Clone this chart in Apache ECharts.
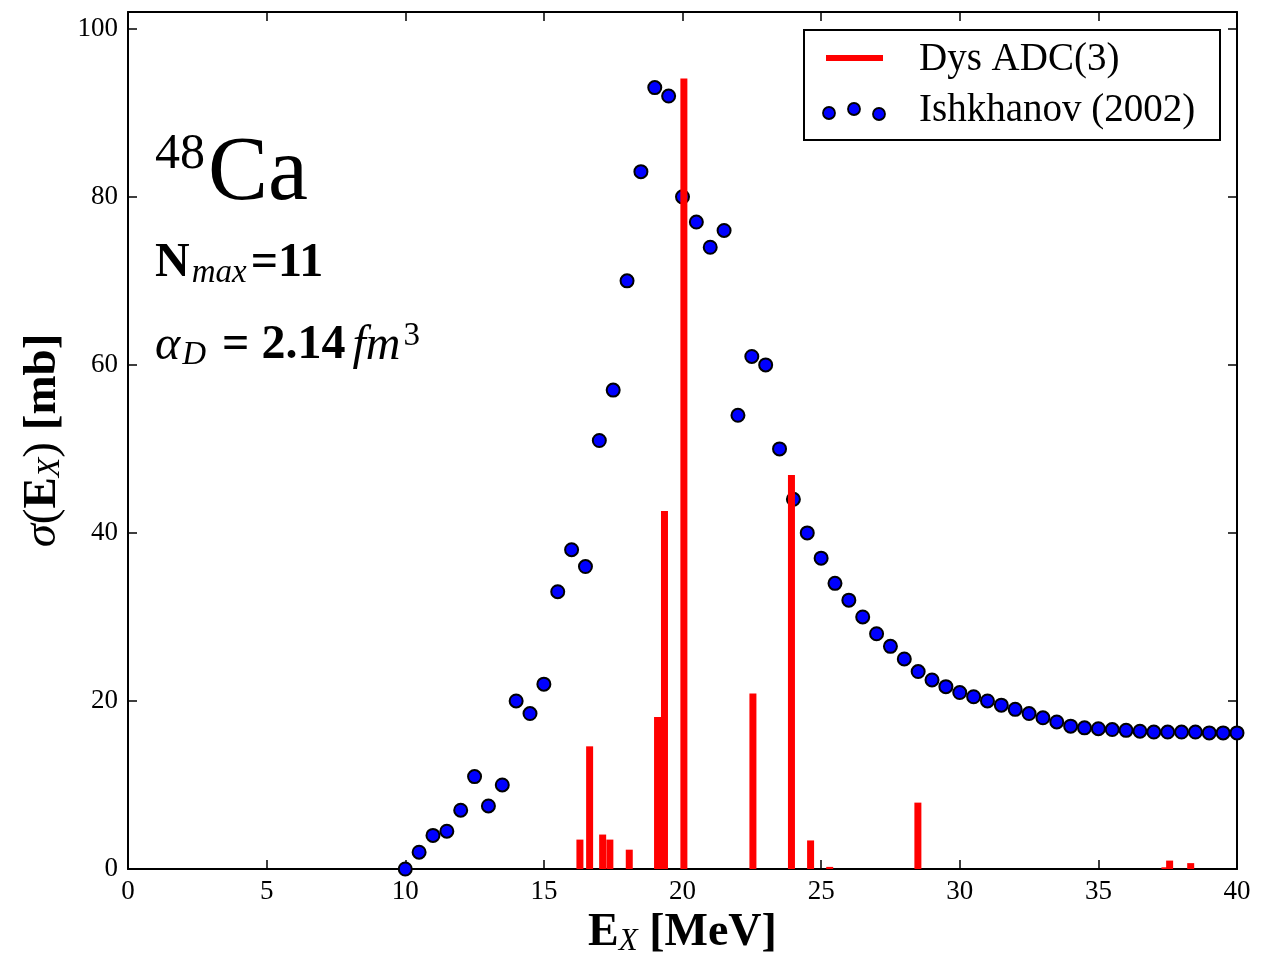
<!DOCTYPE html>
<html>
<head>
<meta charset="utf-8">
<title>48Ca photoabsorption</title>
<script src="https://cdn.jsdelivr.net/npm/echarts@6/dist/echarts.min.js"></script>
<style>
  html, body { margin: 0; padding: 0; background: #fff; }
  #chart { width: 1271px; height: 954px; }
</style>
</head>
<body>
<div id="chart"></div>
<script>
// Dys ADC(3) discrete strengths
const energyDys = [16.3, 16.65, 17.12, 17.38, 18.08, 19.1, 19.35, 20.05, 22.54, 23.93, 24.62, 25.31, 28.49, 37.4, 37.57, 38.33];
const sigmaDys = [3.5, 14.6, 4.1, 3.5, 2.3, 18.1, 42.6, 94.1, 20.9, 46.9, 3.4, 0.25, 7.9, 0.2, 1.0, 0.7];

// Ishkhanov (2002) data points
const energyExp = [10, 10.5, 11, 11.5, 12, 12.5, 13, 13.5, 14, 14.5, 15, 15.5, 16, 16.5, 17, 17.5, 18, 18.5, 19, 19.5,
  20, 20.5, 21, 21.5, 22, 22.5, 23, 23.5, 24, 24.5, 25, 25.5, 26, 26.5, 27, 27.5, 28, 28.5, 29, 29.5,
  30, 30.5, 31, 31.5, 32, 32.5, 33, 33.5, 34, 34.5, 35, 35.5, 36, 36.5, 37, 37.5, 38, 38.5, 39, 39.5, 40];
const sigmaExp = [0, 2, 4, 4.5, 7, 11, 7.5, 10, 20, 18.5, 22, 33, 38, 36, 51, 57, 70, 83, 93, 92,
  80, 77, 74, 76, 54, 61, 60, 50, 44, 40, 37, 34, 32, 30, 28, 26.5, 25, 23.5, 22.5, 21.7,
  21, 20.5, 20, 19.5, 19, 18.5, 18, 17.5, 17, 16.8, 16.7, 16.6, 16.5, 16.4, 16.3, 16.3, 16.3, 16.3, 16.2, 16.2, 16.2];

const xRange = [0, 40];
const xStep = 5;
const yRange = [0, 102];
const yStep = 20;

const legendNames = ['Dys ADC(3)', 'Ishkhanov (2002)'];

const serif = "'Liberation Serif', 'DejaVu Serif', serif";

const chart = echarts.init(document.getElementById('chart'));

const frameLine = { show: true, onZero: false, lineStyle: { color: '#000', width: 2 } };
const innerTick = { show: true, inside: true, length: 9, lineStyle: { color: '#000', width: 1.5 } };

const option = {
  backgroundColor: '#fff',
  animation: false,
  grid: { left: 128, right: 34, top: 12, bottom: 85, containLabel: false, outerBoundsMode: 'none' },
  xAxis: [
    {
      type: 'value', min: xRange[0], max: xRange[1], interval: xStep, position: 'bottom',
      axisLine: frameLine, axisTick: innerTick, splitLine: { show: false },
      axisLabel: { color: '#000', fontSize: 27, fontFamily: serif, margin: 9 },
      name: '{b|E}{sub|X}{b| [MeV]}', nameLocation: 'middle', nameGap: 34,
      nameTextStyle: {
        rich: {
          b: { fontSize: 46, fontWeight: 'bold', fontFamily: serif, color: '#000', lineHeight: 48 },
          sub: { fontSize: 31, fontStyle: 'italic', fontFamily: serif, color: '#000', lineHeight: 26, verticalAlign: 'bottom' }
        }
      }
    },
    {
      type: 'value', min: xRange[0], max: xRange[1], interval: xStep, position: 'top',
      axisLine: frameLine, axisTick: innerTick, splitLine: { show: false }, axisLabel: { show: false }
    }
  ],
  yAxis: [
    {
      type: 'value', min: yRange[0], max: yRange[1], interval: yStep, position: 'left',
      axisLine: frameLine, axisTick: innerTick, splitLine: { show: false },
      axisLabel: {
        color: '#000', fontSize: 27, fontFamily: serif, margin: 10,
        formatter: v => (v % yStep === 0 ? String(v) : '')
      },
      name: '{s|σ}{n|(}{b|E}{sub|X}{n|) }{b|[mb]}', nameLocation: 'middle', nameGap: 57,
      nameTextStyle: {
        rich: {
          s: { fontSize: 47, fontStyle: 'italic', fontFamily: serif, color: '#000', lineHeight: 48 },
          n: { fontSize: 47, fontFamily: serif, color: '#000', lineHeight: 48 },
          b: { fontSize: 47, fontWeight: 'bold', fontFamily: serif, color: '#000', lineHeight: 48 },
          sub: { fontSize: 32, fontStyle: 'italic', fontFamily: serif, color: '#000', lineHeight: 26, verticalAlign: 'bottom' }
        }
      }
    },
    {
      type: 'value', min: yRange[0], max: yRange[1], interval: yStep, position: 'right',
      axisLine: frameLine, axisTick: innerTick, splitLine: { show: false }, axisLabel: { show: false }
    }
  ],
  series: [
    {
      name: legendNames[1], type: 'scatter', xAxisIndex: 0, yAxisIndex: 0, z: 2,
      symbol: 'circle', symbolSize: 13,
      itemStyle: { color: '#0000ff', borderColor: '#000', borderWidth: 2, opacity: 1 },
      data: energyExp.map((e, i) => [e, sigmaExp[i]])
    },
    {
      name: legendNames[0], type: 'bar', xAxisIndex: 0, yAxisIndex: 0, z: 3,
      barWidth: 7,
      itemStyle: { color: '#ff0000' },
      data: energyDys.map((e, i) => [e, sigmaDys[i]])
    }
  ],
  graphic: [
    {
      type: 'text', left: 155, top: 130, z: 10,
      style: {
        text: '{sup|48}{big|Ca}',
        rich: {
          sup: { fontSize: 50, fontFamily: serif, fill: '#000', lineHeight: 62, verticalAlign: 'top', padding: [0, 3, 0, 0] },
          big: { fontSize: 90, fontFamily: serif, fill: '#000', lineHeight: 90 }
        }
      }
    },
    {
      type: 'text', left: 155, top: 240, z: 10,
      style: {
        text: '{b|N}{sub|max}{b|=11}',
        rich: {
          b: { fontSize: 48, fontWeight: 'bold', fontFamily: serif, fill: '#000', lineHeight: 52 },
          sub: { fontSize: 33, fontStyle: 'italic', fontFamily: serif, fill: '#000', lineHeight: 28, verticalAlign: 'bottom', padding: [0, 4, 0, 2] }
        }
      }
    },
    {
      type: 'text', left: 155, top: 320, z: 10,
      style: {
        text: '{a|α}{sub|D}{b| = 2.14}{i|fm}{sup|3}',
        rich: {
          a: { fontSize: 48, fontStyle: 'italic', fontFamily: serif, fill: '#000', lineHeight: 52 },
          sub: { fontSize: 33, fontStyle: 'italic', fontFamily: serif, fill: '#000', lineHeight: 28, verticalAlign: 'bottom', padding: [0, 4, 0, 2] },
          b: { fontSize: 48, fontWeight: 'bold', fontFamily: serif, fill: '#000', lineHeight: 52 },
          i: { fontSize: 48, fontStyle: 'italic', fontFamily: serif, fill: '#000', lineHeight: 52, padding: [0, 3, 0, 7] },
          sup: { fontSize: 33, fontFamily: serif, fill: '#000', lineHeight: 28, verticalAlign: 'top' }
        }
      }
    },
    {
      type: 'group', left: 803, top: 29, z: 20,
      children: [
        { type: 'rect', shape: { x: 0, y: 0, width: 416, height: 110 }, style: { fill: '#fff', stroke: '#000', lineWidth: 2 } },
        { type: 'line', shape: { x1: 22, y1: 28, x2: 79, y2: 28 }, style: { stroke: '#ff0000', lineWidth: 6 } },
        { type: 'circle', shape: { cx: 25, cy: 83, r: 6 }, style: { fill: '#0000ff', stroke: '#000', lineWidth: 1.8 } },
        { type: 'circle', shape: { cx: 50, cy: 79, r: 6 }, style: { fill: '#0000ff', stroke: '#000', lineWidth: 1.8 } },
        { type: 'circle', shape: { cx: 75, cy: 84, r: 6 }, style: { fill: '#0000ff', stroke: '#000', lineWidth: 1.8 } },
        { type: 'text', x: 115, y: 30, style: { text: legendNames[0], fontSize: 39, fontFamily: serif, fill: '#000', verticalAlign: 'middle' } },
        { type: 'text', x: 115, y: 81, style: { text: legendNames[1], fontSize: 39, fontFamily: serif, fill: '#000', verticalAlign: 'middle' } }
      ]
    }
  ]
};

chart.setOption(option);
</script>
</body>
</html>
